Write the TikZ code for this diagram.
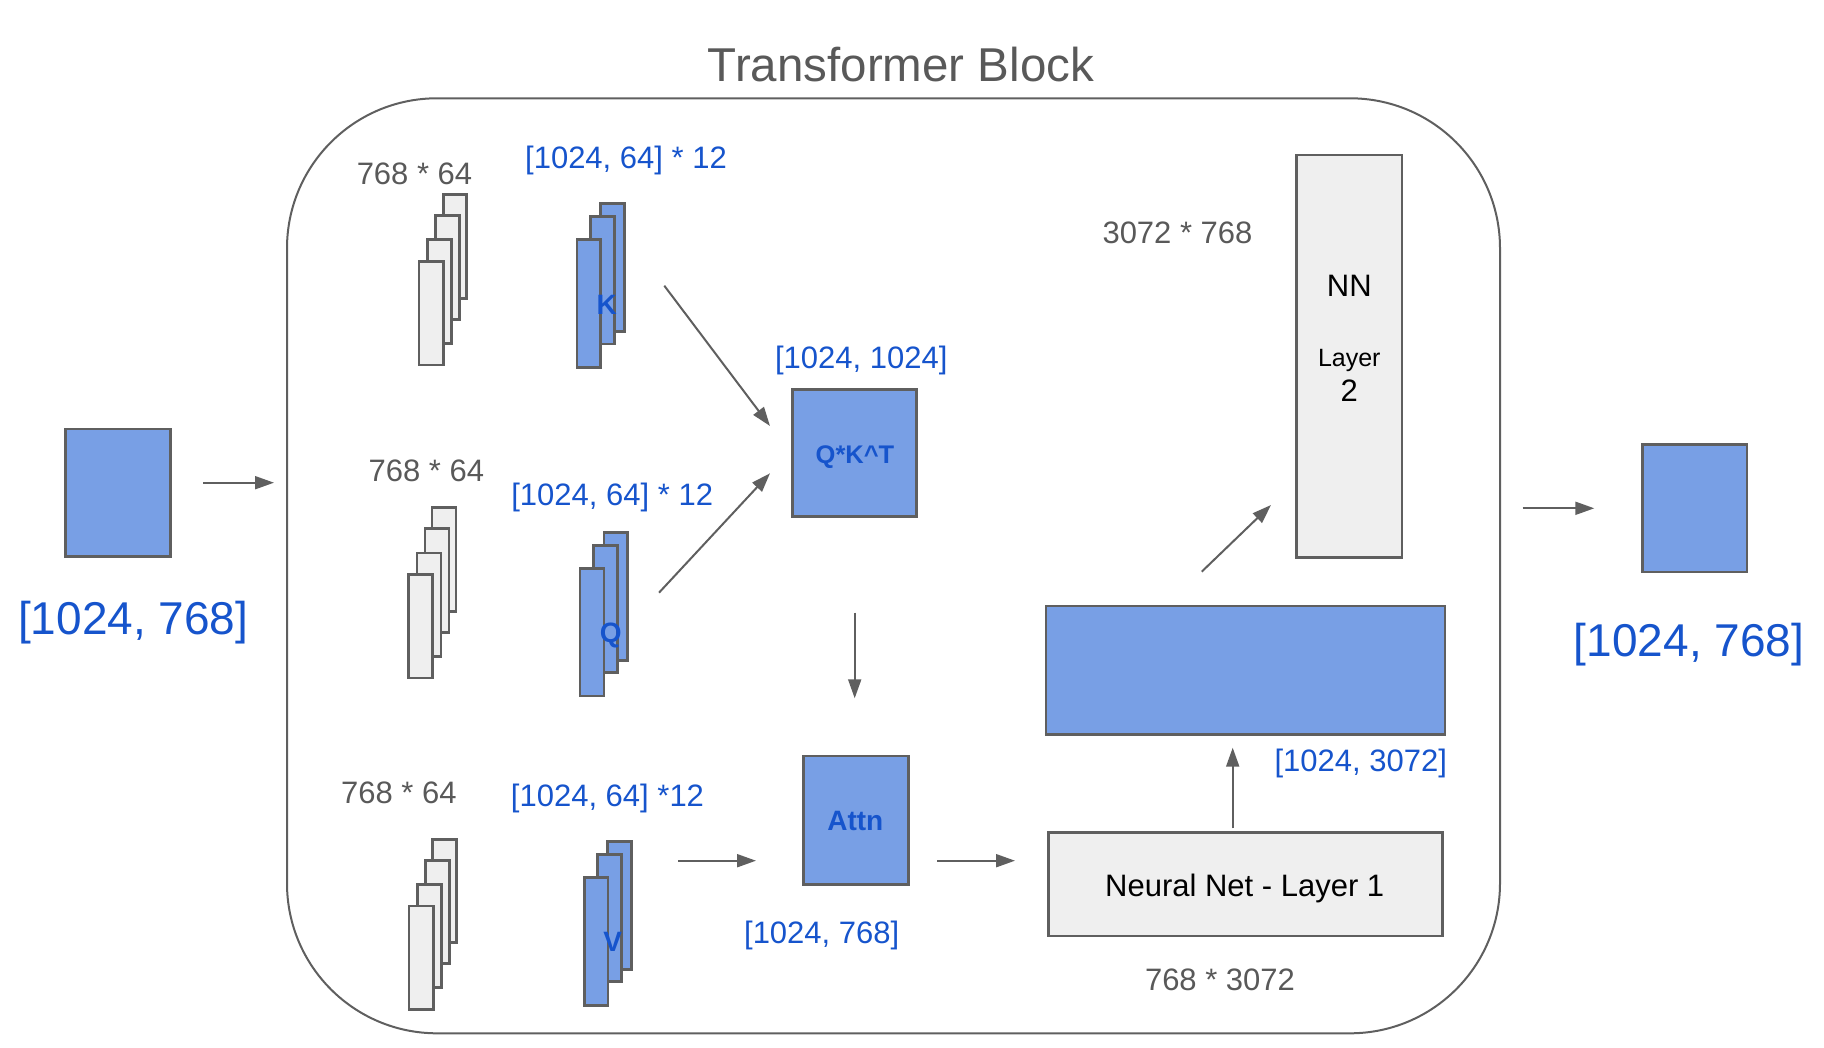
\documentclass[tikz,border=0pt]{standalone}
\usepackage{fontspec}
\setmainfont{Liberation Sans}
\usetikzlibrary{fit,arrows.meta}
\definecolor{bfill}{RGB}{120,159,229}
\definecolor{btext}{RGB}{22,84,204}
\definecolor{gtext}{RGB}{89,89,89}
\definecolor{gline}{RGB}{95,95,95}
\definecolor{gfill}{RGB}{239,239,239}
\newcommand{\fs}[1]{\fontsize{#1}{#1}\selectfont}
\begin{document}
\begin{tikzpicture}[x=1pt,y=-1pt,
  bluebox/.style={draw=gline, fill=bfill, line width=2.5pt, inner sep=0pt},
  graybox/.style={draw=gline, fill=gfill, line width=2.5pt, inner sep=0pt},
  arr/.style={draw=gline, line width=2pt, -{Triangle[length=19pt,width=13pt]}},
  gtxt/.style={text=gtext, anchor=base, inner sep=0pt, font=\fs{31}},
  btxt/.style={text=btext, anchor=base, inner sep=0pt, font=\fs{31}},
  bbold/.style={text=btext, anchor=base, inner sep=0pt, font=\fs{28}\bfseries},
  ktxt/.style={text=black, anchor=base, inner sep=0pt, font=\fs{31}}]
\useasboundingbox (0,0) rectangle (1824,1048);

% outer block
\node[draw=gline, line width=2pt, rounded corners=150pt, inner sep=0pt, fit={(287,98.3) (1500,1033.3)}] (block) {};
\node[text=gtext, anchor=base, inner sep=0pt, font=\fs{47.5}] (title) at (901,81.7) {Transformer Block};

% input / output
\node[bluebox, fit={(65.7,429) (170.7,556.7)}] (in) {};
\node[btxt, font=\fs{46}] (inlab) at (133.3,634) {[1024, 768]};
\node[bluebox, fit={(1642.7,444.3) (1747,572)}] (out) {};
\node[btxt, font=\fs{46}] (outlab) at (1689,656.7) {[1024, 768]};

% K group
\node[graybox, fit={(443.3,194.3) (466.7,298.3)}] (kw1) {};
\node[graybox, fit={(435.7,215.7) (459.7,319.3)}] (kw2) {};
\node[graybox, fit={(427.7,239.7) (451.7,343.3)}] (kw3) {};
\node[graybox, fit={(419,261.7) (443.3,365)}] (kw4) {};
\node[bluebox, fit={(600.7,203.3) (624.7,331.7)}] (k1) {};
\node[bluebox, fit={(590.3,216.3) (614.3,344)}] (k2) {};
\node[bluebox, fit={(577,239.3) (600.7,367.3)}] (k3) {};
\node[bbold] (klab) at (606.7,315) {K};
\node[gtxt] (kwlab) at (414.5,185) {768 * 64};
\node[btxt] (kdim) at (626,168.3) {[1024, 64] * 12};

% Q group
\node[graybox, fit={(432,507.7) (456,611.3)}] (qw1) {};
\node[graybox, fit={(425,528.7) (449,632.3)}] (qw2) {};
\node[graybox, fit={(417,553) (441,656.3)}] (qw3) {};
\node[graybox, fit={(408.3,574.3) (432.3,678)}] (qw4) {};
\node[bluebox, fit={(604,532.3) (627.7,660.3)}] (q1) {};
\node[bluebox, fit={(593.3,545.3) (617.3,672.7)}] (q2) {};
\node[bluebox, fit={(580,568.3) (604,696)}] (q3) {};
\node[bbold] (qlab) at (610.7,642) {Q};
\node[gtxt] (qwlab) at (426.3,481.7) {768 * 64};
\node[btxt] (qdim) at (612.2,505) {[1024, 64] * 12};

% V group
\node[graybox, fit={(432.7,839.3) (456.7,942.7)}] (vw1) {};
\node[graybox, fit={(425.7,860.3) (449.3,963.7)}] (vw2) {};
\node[graybox, fit={(417.7,884.7) (441.7,987.7)}] (vw3) {};
\node[graybox, fit={(409,906) (433.3,1009.3)}] (vw4) {};
\node[bluebox, fit={(607.7,841.3) (631.7,969.3)}] (v1) {};
\node[bluebox, fit={(597.3,854.3) (621.3,981.7)}] (v2) {};
\node[bluebox, fit={(584.3,877.3) (608,1005.3)}] (v3) {};
\node[bbold] (vlab) at (612.7,951) {V};
\node[gtxt] (vwlab) at (398.8,803.3) {768 * 64};
\node[btxt] (vdim) at (607.5,806.7) {[1024, 64] *12};

% Q*K^T and Attn
\node[bluebox, fit={(792.7,389.3) (916.7,516.7)}] (qk) {};
\node[bbold, font=\fs{25.5}\bfseries] (qklab) at (855,463.3) {Q*K\^{}T};
\node[btxt] (qkdim) at (861.3,368.3) {[1024, 1024]};
\node[bluebox, fit={(803.3,756) (908.3,884.3)}] (attn) {};
\node[bbold] (attnlab) at (855.3,830) {Attn};
\node[btxt] (attndim) at (821.7,943.3) {[1024, 768]};

% feed-forward
\node[graybox, fit={(1048.3,832.7) (1442.7,936)}] (nn1) {};
\node[ktxt] (nn1lab) at (1244.7,896) {Neural Net - Layer 1};
\node[gtxt] (nn1w) at (1220,990) {768 * 3072};
\node[bluebox, fit={(1046,606) (1445,734.3)}] (wide) {};
\node[btxt] (widedim) at (1360.8,771.7) {[1024, 3072]};
\node[graybox, fit={(1296.7,155) (1402,557.3)}] (nn2) {};
\node[ktxt] (nn2a) at (1349.3,296.7) {NN};
\node[ktxt, font=\fs{25}] (nn2b) at (1349.3,366.7) {Layer};
\node[ktxt] (nn2c) at (1349.3,401.7) {2};
\node[gtxt] (nn2w) at (1177.5,244) {3072 * 768};

% connectors
\coordinate (a1s) at (203.3,482.7); \coordinate (a1e) at (274,482.7);
\coordinate (a2s) at (664.3,285.7); \coordinate (a2e) at (770,426);
\coordinate (a3s) at (659,592.7);   \coordinate (a3e) at (770,473.3);
\coordinate (a4s) at (854.7,612.7); \coordinate (a4e) at (854.7,698.3);
\coordinate (a5s) at (678.3,860.7); \coordinate (a5e) at (756,860.7);
\coordinate (a6s) at (937.3,860.7); \coordinate (a6e) at (1015,860.7);
\coordinate (a7s) at (1232.7,828.3); \coordinate (a7e) at (1232.7,747.7);
\coordinate (a8s) at (1201.7,571.7); \coordinate (a8e) at (1271,505);
\coordinate (a9s) at (1522.7,508.3); \coordinate (a9e) at (1594.3,508.3);
\foreach \i in {1,...,9} {\draw[arr] (a\i s) -- (a\i e);}
\end{tikzpicture}
\end{document}
